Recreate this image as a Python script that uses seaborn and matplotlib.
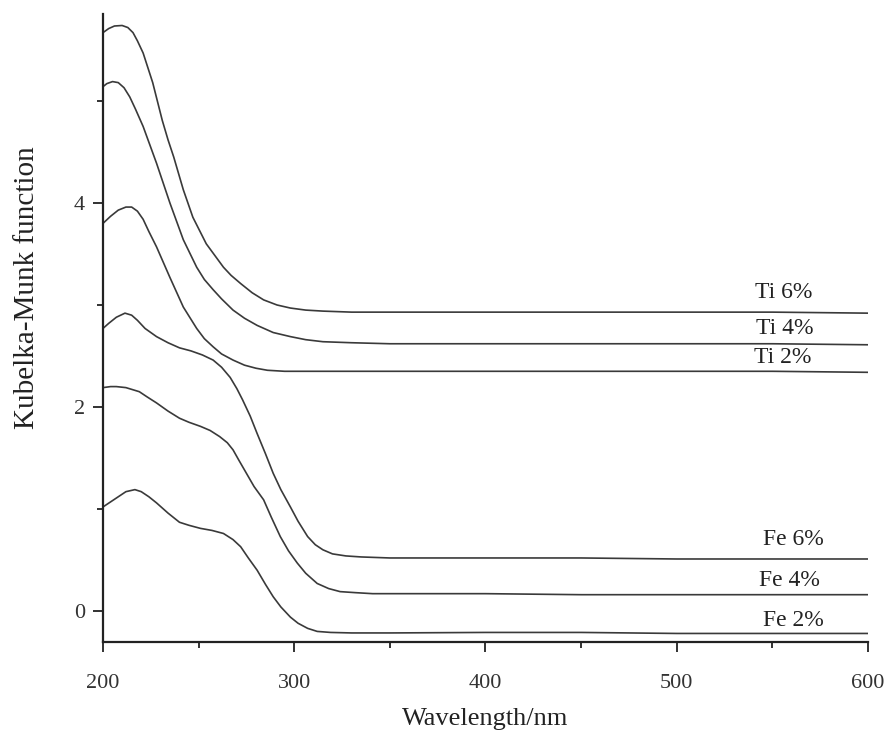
import pandas as pd
import seaborn as sns
from matplotlib import pyplot as plt
from matplotlib.ticker import MultipleLocator

# datos (longitud de onda en nm, funcion K-M)
wl_ti6 = [200, 203, 206, 210, 213, 215.7, 218, 221, 226, 231, 234, 237, 242, 247, 254, 263, 267, 272, 278, 284, 291, 298, 306, 315, 330, 350, 400, 450, 500, 550, 600]
km_ti6 = [5.67, 5.71, 5.735, 5.74, 5.72, 5.67, 5.59, 5.47, 5.18, 4.81, 4.62, 4.45, 4.13, 3.86, 3.60, 3.37, 3.29, 3.21, 3.12, 3.05, 3.00, 2.97, 2.95, 2.94, 2.93, 2.93, 2.93, 2.93, 2.93, 2.93, 2.92]

wl_ti4 = [200, 202, 205, 208, 211, 214, 217, 221, 228, 235, 242, 249, 253, 257.6, 262, 268, 274, 280.6, 289, 298, 306, 315, 330, 350, 400, 450, 500, 550, 600]
km_ti4 = [5.14, 5.17, 5.19, 5.18, 5.13, 5.04, 4.92, 4.75, 4.39, 4.00, 3.64, 3.37, 3.25, 3.15, 3.06, 2.95, 2.87, 2.80, 2.73, 2.69, 2.66, 2.64, 2.63, 2.62, 2.62, 2.62, 2.62, 2.62, 2.61]

wl_ti2 = [200, 204, 208, 212, 215, 218, 221, 224, 228, 235, 242, 249, 253, 257.6, 262, 268, 274, 280, 286, 295, 350, 400, 450, 500, 550, 600]
km_ti2 = [3.80, 3.87, 3.93, 3.96, 3.96, 3.92, 3.84, 3.72, 3.57, 3.27, 2.98, 2.77, 2.67, 2.59, 2.52, 2.46, 2.41, 2.38, 2.36, 2.35, 2.35, 2.35, 2.35, 2.35, 2.35, 2.34]

wl_fe6 = [200, 203, 207, 211.5, 215, 218, 222, 228, 234, 240, 246, 252, 257.6, 262, 266.5, 270, 273, 277, 280.6, 285, 289, 293, 298, 302, 307, 311, 315, 320, 327, 335, 350, 400, 450, 500, 550, 600]
km_fe6 = [2.77, 2.82, 2.88, 2.92, 2.90, 2.85, 2.77, 2.69, 2.63, 2.58, 2.55, 2.51, 2.46, 2.39, 2.29, 2.18, 2.07, 1.91, 1.74, 1.54, 1.35, 1.19, 1.02, 0.88, 0.73, 0.65, 0.60, 0.56, 0.54, 0.53, 0.52, 0.52, 0.52, 0.51, 0.51, 0.51]

wl_fe4 = [200, 204, 207, 212, 219, 223, 228, 234, 240, 245, 251, 256, 261, 265, 268, 271, 275, 279, 284, 288, 292.7, 297, 301.6, 306, 312, 318, 324, 332, 341, 400, 450, 500, 550, 600]
km_fe4 = [2.19, 2.20, 2.20, 2.19, 2.15, 2.10, 2.04, 1.96, 1.89, 1.85, 1.81, 1.77, 1.71, 1.65, 1.58, 1.48, 1.35, 1.22, 1.09, 0.92, 0.73, 0.59, 0.47, 0.37, 0.27, 0.22, 0.19, 0.18, 0.17, 0.17, 0.16, 0.16, 0.16, 0.16]

wl_fe2 = [200, 204, 208, 212, 216.7, 220, 224, 228, 234, 240, 245, 251, 257, 263, 268, 272, 276, 280.6, 285, 289, 293, 298, 302, 307, 312, 319, 330, 350, 400, 450, 500, 550, 600]
km_fe2 = [1.02, 1.07, 1.12, 1.17, 1.19, 1.17, 1.12, 1.06, 0.96, 0.87, 0.84, 0.81, 0.79, 0.76, 0.70, 0.63, 0.52, 0.40, 0.26, 0.14, 0.04, -0.06, -0.12, -0.17, -0.20, -0.21, -0.215, -0.215, -0.21, -0.21, -0.22, -0.22, -0.22]

muestras = ["Ti 6%", "Ti 4%", "Ti 2%", "Fe 6%", "Fe 4%", "Fe 2%"]
wl_series = [wl_ti6, wl_ti4, wl_ti2, wl_fe6, wl_fe4, wl_fe2]
km_series = [km_ti6, km_ti4, km_ti2, km_fe6, km_fe4, km_fe2]

# posicion de las etiquetas (x, y en unidades de datos)
etiqueta_x = [556, 556.6, 555.6, 560.8, 559, 560.8]
etiqueta_y = [3.12, 2.77, 2.49, 0.70, 0.30, -0.09]

# tabla larga para seaborn
filas = []
for nombre, wl, km in zip(muestras, wl_series, km_series):
    for a, b in zip(wl, km):
        filas.append({"muestra": nombre, "wl": a, "km": b})
datos = pd.DataFrame(filas)

sns.set_style("ticks")
plt.rcParams['font.family'] = ['Liberation Serif', 'DejaVu Serif']

fig = plt.figure(figsize=(8.9, 7.35), dpi=100)
ax = fig.add_axes([0.1157, 0.1265, 0.8596, 0.8545])

sns.lineplot(data=datos, x="wl", y="km", hue="muestra", units="muestra",
             estimator=None, sort=False, palette=["#3a3a3a"] * 6,
             linewidth=1.2, legend=False, ax=ax)

for nombre, tx, ty in zip(muestras, etiqueta_x, etiqueta_y):
    ax.text(tx, ty, nombre, ha="center", va="center", fontsize=17, color="#222222")

ax.set_xlim(200, 600)
ax.set_ylim(-0.304, 5.853)
ax.xaxis.set_major_locator(MultipleLocator(100))
ax.xaxis.set_minor_locator(MultipleLocator(50))
ax.set_yticks([0, 2, 4])
ax.yaxis.set_minor_locator(MultipleLocator(1))
ax.tick_params(which="major", length=7, width=1.3, color="#222222",
               labelsize=16, labelcolor="#333333", pad=6)
ax.tick_params(axis="x", which="major", pad=16)
ax.tick_params(which="minor", length=4, width=1.3, color="#222222")

sns.despine(ax=ax)
for lado in ["left", "bottom"]:
    ax.spines[lado].set_linewidth(1.6)
    ax.spines[lado].set_color("#222222")

ax.set_xlabel("Wavelength/nm", fontsize=19, color="#222222", labelpad=11)
ax.set_ylabel("Kubelka-Munk function", fontsize=21, color="#222222")
ax.yaxis.set_label_coords(-0.082, 0.565)

fig.savefig("out.png", dpi=100)
